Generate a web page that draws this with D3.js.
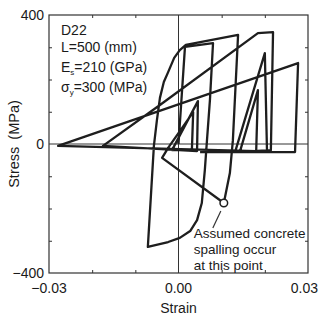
<!DOCTYPE html>
<html>
<head>
<meta charset="utf-8">
<script src="https://cdn.jsdelivr.net/npm/d3@7"></script>
<style>
  body { margin: 0; background: #fff; }
  text { font-family: "Liberation Sans", Arial, sans-serif; fill: #1a1a1a; }
</style>
</head>
<body>
<div id="graph"></div>
<script>
// hysteresis path (strain, stress MPa)
var strain = [0, 0.0015, 0.0080, 0.0073, 0.0066, 0.0061, 0.0054, 0.0043, 0.0027, 0.0003, -0.0024, -0.0071,
    -0.0057, -0.0050, -0.0043, -0.0034, -0.0024, -0.0010, 0.0003, 0.0017, 0.0138,
    0.0126, 0.0119, 0.0105, -0.0038, -0.0024,
    0.0034, 0.0031, -0.0015, 0.0045, 0.0043,
    -0.0175, -0.0043, 0.0184, 0.0219, 0.0214,
    0.0131, 0.0200, 0.0205, 0.0142, 0.0184, 0.0180,
    -0.0279, 0.0277, 0.0270, 0.0050];
var stress = [0, 301, 313, 140, 12, -81, -183, -236, -270, -291, -304, -319,
    -6, 74, 143, 192, 223, 267, 291, 307, 338,
    12, -90, -183, -43, -12,
    99, -19, -19, 133, -22,
    -6, 121, 344, 347, -19,
    -25, 282, -22, -25, 167, -22,
    -6, 251, -25, -25];
var spall = [0.0105, -183];

var xTicks = [-0.03, 0.00, 0.03];
var xTickText = ["\u22120.03", "0.00", "0.03"];
var xMinor = [-0.02, -0.01, 0.01, 0.02];
var yTicks = [-400, 0, 400];
var yTickText = ["\u2212400", "0", "400"];
var yMinor = [-300, -200, -100, 100, 200, 300];
var infoLines = ["D22", "L=500 (mm)"];

var margin = {top: 15, right: 11, bottom: 47, left: 49};
var width = 319 - margin.left - margin.right,
    height = 320 - margin.top - margin.bottom;

var svg = d3.select('#graph')
    .append('svg')
    .attr('width', 319)
    .attr('height', 320)
    .append('g')
    .attr('transform', 'translate(' + margin.left + ',' + margin.top + ')');

var x = d3.scaleLinear().domain([-0.03, 0.03]).range([0, width]);
var y = d3.scaleLinear().domain([-400, 400]).range([height, 0]);

// zero lines
svg.append('line')
    .attr('x1', x(0)).attr('x2', x(0))
    .attr('y1', 0).attr('y2', height)
    .style('stroke', '#333').style('stroke-width', 1);
svg.append('line')
    .attr('x1', 0).attr('x2', width)
    .attr('y1', y(0)).attr('y2', y(0))
    .style('stroke', '#333').style('stroke-width', 1);

// frame + inward ticks
svg.append('rect')
    .attr('x', 0).attr('y', 0)
    .attr('width', width).attr('height', height)
    .style('fill', 'none').style('stroke', '#333').style('stroke-width', 1.2);

var bottomAxis = d3.axisBottom(x).tickValues(xMinor).tickSize(-3).tickFormat('');
var topAxis = d3.axisTop(x).tickValues(xMinor).tickSize(-3).tickFormat('');
var leftAxis = d3.axisLeft(y).tickValues(yMinor).tickSize(-3).tickFormat('');
var rightAxis = d3.axisRight(y).tickValues(yMinor).tickSize(-3).tickFormat('');

svg.append('g').attr('transform', 'translate(0,' + height + ')').call(bottomAxis);
svg.append('g').call(topAxis);
svg.append('g').call(leftAxis);
svg.append('g').attr('transform', 'translate(' + width + ',0)').call(rightAxis);
svg.selectAll('.domain').remove();
svg.selectAll('.tick line').style('stroke', '#333');

// tick labels (last one pulled in so it stays on the page)
svg.selectAll('.xlab')
    .data(xTicks)
    .enter().append('text')
    .attr('x', function(d, i){ return i == xTicks.length - 1 ? 319 - margin.left - 1 : x(d); })
    .attr('y', height + 20)
    .attr('text-anchor', function(d, i){ return i == xTicks.length - 1 ? 'end' : 'middle'; })
    .style('font-size', '14px')
    .text(function(d, i){ return xTickText[i]; });

svg.selectAll('.ylab')
    .data(yTicks)
    .enter().append('text')
    .attr('x', -5)
    .attr('y', function(d){ return y(d) + 5; })
    .attr('text-anchor', 'end')
    .style('font-size', '14px')
    .text(function(d, i){ return yTickText[i]; });

// axis titles
svg.append('text')
    .attr('x', width / 2)
    .attr('y', height + 40)
    .attr('text-anchor', 'middle')
    .style('font-size', '14px')
    .text('Strain');

svg.append('text')
    .attr('transform', 'translate(' + (-30) + ',' + (height / 2) + ') rotate(-90)')
    .attr('text-anchor', 'middle')
    .style('font-size', '14.5px')
    .style('word-spacing', '3px')
    .text('Stress (MPa)');

// the curve
var pts = strain.map(function(d, i){ return [d, stress[i]]; });
var line = d3.line()
    .x(function(d){ return x(d[0]); })
    .y(function(d){ return y(d[1]); })
    .curve(d3.curveLinear);

svg.append('path')
    .datum(pts)
    .attr('d', line)
    .style('fill', 'none')
    .style('stroke', '#1e1e1e')
    .style('stroke-width', 2.3)
    .style('stroke-linejoin', 'round');

// spalling marker + note
svg.append('line')
    .attr('x1', x(spall[0]) - 3).attr('y1', y(spall[1]) + 8)
    .attr('x2', x(spall[0]) - 11).attr('y2', y(spall[1]) + 25)
    .style('stroke', '#333').style('stroke-width', 1.2);

svg.append('circle')
    .attr('cx', x(spall[0]))
    .attr('cy', y(spall[1]))
    .attr('r', 3.8)
    .style('fill', 'white')
    .style('stroke', '#1e1e1e')
    .style('stroke-width', 1.5);

var note = svg.append('text')
    .attr('x', x(spall[0]) - 30)
    .attr('y', y(spall[1]) + 35)
    .style('font-size', '13.5px');
note.append('tspan').text('Assumed concrete');
note.append('tspan').attr('x', x(spall[0]) - 30).attr('dy', 16).text('spalling occur');
note.append('tspan').attr('x', x(spall[0]) - 30).attr('dy', 16).text('at this point');

// info block
var info = svg.append('g').attr('transform', 'translate(12,0)').style('font-size', '14px');
info.selectAll('.inf')
    .data(infoLines)
    .enter().append('text')
    .attr('x', 0)
    .attr('y', function(d, i){ return 20 + i * 17; })
    .text(function(d){ return d; });

var es = info.append('text').attr('x', 0).attr('y', 57);
es.append('tspan').text('E');
es.append('tspan').attr('dy', 3).style('font-size', '8px').text('s');
es.append('tspan').attr('dy', -3).text('=210 (GPa)');

var sy = info.append('text').attr('x', 0).attr('y', 77);
sy.append('tspan').text('\u03c3');
sy.append('tspan').attr('dy', 3).style('font-size', '8px').text('y');
sy.append('tspan').attr('dy', -3).text('=300 (MPa)');
</script>
</body>
</html>
